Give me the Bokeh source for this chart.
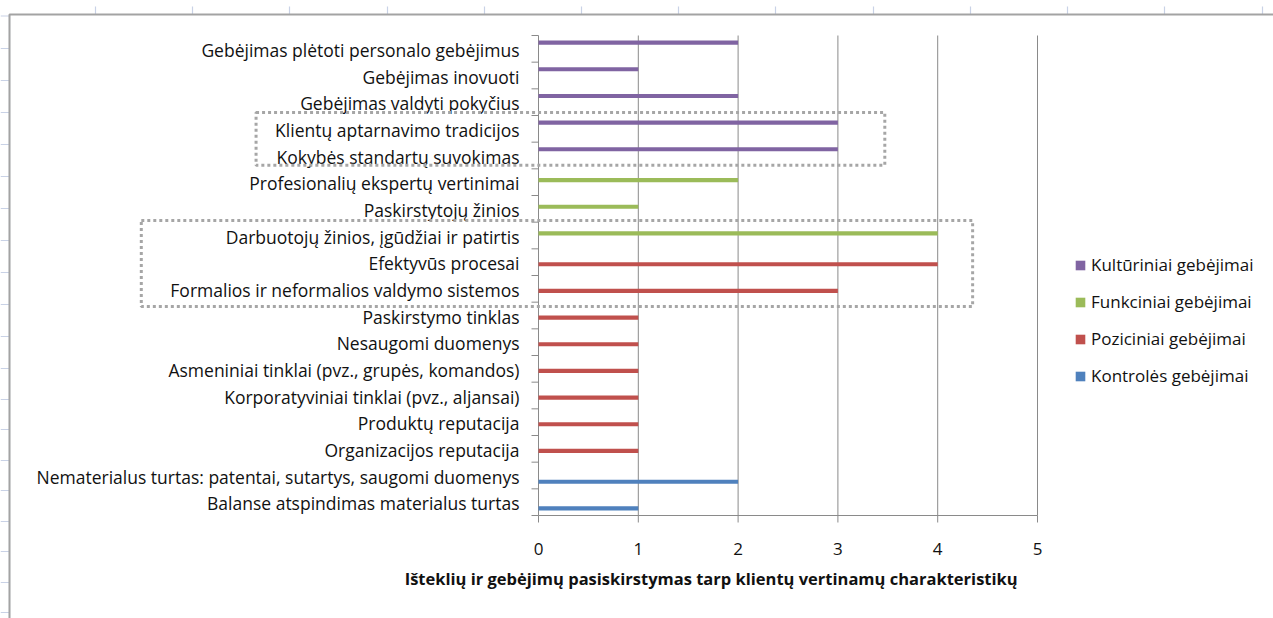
from math import pi

from bokeh.plotting import figure
from bokeh.models import (ColumnDataSource, Range1d, BoxAnnotation, PolyAnnotation,
                          Legend, LegendItem, Label)
from bokeh.core.properties import value
from bokeh.transform import dodge
from bokeh.embed import file_html
from bokeh.resources import INLINE

# Categories, from the top of the chart to the bottom
categories = [
    "Gebėjimas plėtoti personalo gebėjimus",
    "Gebėjimas inovuoti",
    "Gebėjimas valdyti pokyčius",
    "Klientų aptarnavimo tradicijos",
    "Kokybės standartų suvokimas",
    "Profesionalių ekspertų vertinimai",
    "Paskirstytojų žinios",
    "Darbuotojų žinios, įgūdžiai ir patirtis",
    "Efektyvūs procesai",
    "Formalios ir neformalios valdymo sistemos",
    "Paskirstymo tinklas",
    "Nesaugomi duomenys",
    "Asmeniniai tinklai (pvz., grupės, komandos)",
    "Korporatyviniai tinklai (pvz., aljansai)",
    "Produktų reputacija",
    "Organizacijos reputacija",
    "Nematerialus turtas: patentai, sutartys, saugomi duomenys",
    "Balanse atspindimas materialus turtas",
]

# One value per category for each series (0 = no bar)
kulturiniai = [2, 1, 2, 3, 3, 0, 0, 0, 0, 0, 0, 0, 0, 0, 0, 0, 0, 0]
funkciniai  = [0, 0, 0, 0, 0, 2, 1, 4, 0, 0, 0, 0, 0, 0, 0, 0, 0, 0]
poziciniai  = [0, 0, 0, 0, 0, 0, 0, 0, 4, 3, 1, 1, 1, 1, 1, 1, 0, 0]
kontroles   = [0, 0, 0, 0, 0, 0, 0, 0, 0, 0, 0, 0, 0, 0, 0, 0, 2, 1]

series_names = ["Kultūriniai gebėjimai", "Funkciniai gebėjimai",
                "Poziciniai gebėjimai", "Kontrolės gebėjimai"]
series_values = [kulturiniai, funkciniai, poziciniai, kontroles]
series_colors = ["#8064A2", "#9BBB59", "#C0504D", "#4F81BD"]

x_ticks = [0, 1, 2, 3, 4, 5]
x_tick_labels = ["0", "1", "2", "3", "4", "5"]
x_title = "Išteklių ir gebėjimų pasiskirstymas tarp klientų vertinamų charakteristikų"

# Canvas geometry: the plot area (x 0..5, one band per category) sits at
# these pixel positions; the whole canvas is the drawing frame.
W, H = 1273, 618
AREA_L, AREA_T, AREA_B = 538, 35, 515
PX_PER_X = 99.8
N = len(categories)
PX_PER_Y = (AREA_B - AREA_T) / N

FONT = value("Open Sans")
TEXT = "#111111"
GRID = "#8a8a8a"
BAR_H = 0.155


def px_x(px):
    """Canvas pixel column -> x data value."""
    return (px - AREA_L) / PX_PER_X


def px_y(py):
    """Canvas pixel row -> y data value."""
    return N - (py - AREA_T) / PX_PER_Y


p = figure(width=W, height=H, title=None,
           x_range=Range1d(px_x(0), px_x(W)), y_range=Range1d(px_y(H), px_y(0)),
           x_axis_location=None, y_axis_location=None,
           output_backend="svg", toolbar_location=None, min_border=0,
           background_fill_color="white", border_fill_color="white")
p.outline_line_color = None
p.xgrid.visible = False
p.ygrid.visible = False

# Spreadsheet grid peeking out around the chart area
col_x = [95, 192, 289, 387, 484, 581, 678, 775, 873, 970, 1067, 1164, 1262]
row_y = [15.5, 48, 80, 112, 144, 176, 208, 240, 272, 304, 336, 368, 399,
         429, 460, 490, 521, 551, 582, 612]
path = [(9, 700)]
for ry in reversed(row_y):
    path += [(9, ry), (0, ry), (9, ry)]
path.append((9, 14))
for cx in col_x:
    path += [(cx, 14), (cx, 6), (cx, 14)]
path.append((1400, 14))
path = path + path[::-1]
p.add_layout(PolyAnnotation(xs=[px_x(a) for a, b in path], ys=[px_y(b) for a, b in path],
                            fill_alpha=0, line_color="#c9d2e6", line_width=1.2, line_alpha=1))

# Chart area border (top and left edges fall on the canvas)
p.add_layout(BoxAnnotation(left=px_x(9), right=px_x(1500), top=px_y(14), bottom=px_y(800),
                           fill_alpha=0, line_color="#a3a3a3", line_width=2, line_alpha=1))

# Value gridlines (the one at 0 doubles as the category axis line) and the value axis line
p.segment(x0=x_ticks, y0=[0] * len(x_ticks), x1=x_ticks, y1=[N] * len(x_ticks),
          line_color=GRID, line_width=1)
p.segment(x0=[x_ticks[0]], y0=[0], x1=[x_ticks[-1]], y1=[0], line_color=GRID, line_width=1)

# Tick marks: value ticks below the axis, category ticks on band boundaries
p.ray(x=x_ticks, y=[0] * len(x_ticks), length=7, length_units="screen",
      angle=-pi / 2, line_color=GRID, line_width=1)
p.ray(x=[0] * (N + 1), y=list(range(N + 1)), length=7, length_units="screen",
      angle=pi, line_color=GRID, line_width=1)

# Bars
centers = [N - 1 - i + 0.5 for i in range(N)]
renderers = []
for k, (name, vals, color) in enumerate(zip(series_names, series_values, series_colors)):
    idx = [i for i, v in enumerate(vals) if v > 0]
    src = ColumnDataSource(dict(cat=[categories[i] for i in idx],
                                pos=[centers[i] for i in idx],
                                value=[vals[i] for i in idx]))
    r = p.hbar(y=dodge("pos", (1.5 - k) * BAR_H), left=0, right="value",
               height=BAR_H, source=src, fill_color=color, line_color=None)
    renderers.append(r)

# Category labels and value tick labels
p.text(x=[0] * N, y=centers, text=categories, x_offset=-19, y_offset=1,
       text_align="right", text_baseline="middle", text_font=FONT,
       text_font_size="17.5px", text_color=TEXT)
p.text(x=x_ticks, y=[0] * len(x_ticks), text=x_tick_labels, y_offset=33,
       text_align="center", text_baseline="middle", text_font=FONT,
       text_font_size="17px", text_color=TEXT)

# Highlight frames around groups of categories
highlight_boxes = [
    dict(left=-2.83, right=3.47, top=15.11, bottom=13.13),
    dict(left=-3.98, right=4.35, top=11.06, bottom=7.84),
]
for b in highlight_boxes:
    p.add_layout(BoxAnnotation(**b, fill_alpha=0, line_color="#a6a6a6", line_alpha=1,
                               line_width=3, line_dash="3 3"))

# Axis title
p.add_layout(Label(x=1.73, y=px_y(578), text=x_title, text_font="Open Sans",
                   text_font_style="bold", text_font_size="16.5px", text_color=TEXT,
                   text_align="center", text_baseline="middle"))

# Legend, to the right of the plot area
legend = Legend(items=[LegendItem(label=n, renderers=[r]) for n, r in zip(series_names, renderers)],
                location=(1074, 231), orientation="vertical", padding=0, margin=0,
                border_line_color=None, background_fill_alpha=0,
                glyph_width=12, glyph_height=12, label_height=12, spacing=14,
                label_standoff=5, label_text_font="Open Sans", label_text_font_size="17px",
                label_text_color=TEXT)
p.add_layout(legend)

open("out.html", "w").write(file_html(p, INLINE))
